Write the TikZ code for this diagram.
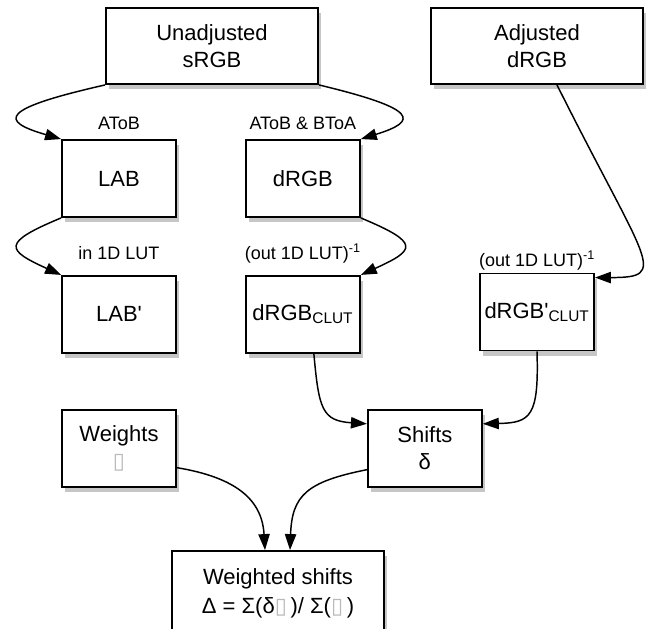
\documentclass[tikz,border=0pt]{standalone}
\usepackage{fontspec}
\setmainfont{Liberation Sans}
\newfontfamily\symfont{DejaVu Sans}
\usetikzlibrary{arrows.meta,positioning,shadows}
\newcommand{\nog}{{\symfont\color{gray!55}▯}}

\begin{document}
\begin{tikzpicture}[x=0.75pt, y=-0.75pt,
  box/.style={draw, line width=1.4pt, fill=white, align=center, inner sep=2pt,
    minimum width=85.5pt, minimum height=57.75pt, font=\fontsize{16.5}{20}\selectfont,
    drop shadow={shadow xshift=2.5pt, shadow yshift=-4pt, opacity=0.45}},
  wide/.style={box, minimum width=159pt, minimum height=57pt},
  lbl/.style={font=\fontsize{13.5}{16}\selectfont, inner sep=0pt, anchor=base},
  link/.style={line width=1.1pt, -{Triangle[length=12pt, width=8.5pt]}}]
  \useasboundingbox (0,0) rectangle (649,628);

  % boxes
  \node[wide] (unadj) at (212,46) {Unadjusted\\sRGB};
  \node[wide] (adj) at (537,46) {Adjusted\\dRGB};
  \node[box] (lab) at (119,178.5) {LAB};
  \node[box, right=51pt of lab] (drgb) {dRGB};
  \node[box, below=42.75pt of lab] (labp) {LAB\textquotesingle};
  \node[box, right=51pt of labp] (drgbc) {dRGB\textsubscript{CLUT}};
  \node[box] (drgbcp) at (537,312) {dRGB\textquotesingle\textsubscript{CLUT}};
  \node[box, below=41.25pt of labp] (weights) {Weights\\\nog};
  \node[box, right=142.5pt of weights] (shifts) {Shifts\\δ};
  \node[wide, minimum height=63pt, font=\fontsize{16.5}{22}\selectfont] (wsum) at (278,593)
    {Weighted shifts\\Δ = Σ(δ\nog\,)/ Σ(\nog\,)};

  % transform labels
  \node[lbl] (t1) at ([yshift=7.5pt]lab.north) {AToB};
  \node[lbl] (t2) at ([yshift=7.5pt]drgb.north) {AToB \& BToA};
  \node[lbl] (t3) at ([yshift=11.25pt]labp.north) {in 1D LUT};
  \node[lbl] (t4) at ([yshift=11.25pt]drgbc.north) {(out 1D LUT)\textsuperscript{-1}};
  \node[lbl] (t5) at ([yshift=4.5pt]drgbcp.north) {(out 1D LUT)\textsuperscript{-1}};

  % connectors
  \draw[link] (unadj.south west) .. controls +(-106,24) and +(-62,-18) .. (lab.north west);
  \draw[link] (unadj.south east) .. controls +(100,24) and +(58,-18) .. (drgb.north east);
  \draw[link] (lab.south west) .. controls +(-60,25) and +(-55,-25) .. (labp.north west);
  \draw[link] (drgb.south east) .. controls +(60,25) and +(55,-25) .. (drgbc.north east);
  \draw[link] ([xshift=15pt]adj.south) .. controls +(90,180) and +(75,0) .. ([yshift=-3.75pt]drgbcp.north east);
  \draw[link] ([xshift=8.25pt]drgbc.south) .. controls +(5,55) and +(-45,-3) .. ([yshift=-11.25pt]shifts.north west);
  \draw[link] (drgbcp.south) .. controls +(2,65) and +(48,-1) .. ([yshift=-11.25pt]shifts.north east);
  \draw[link] ([yshift=15pt]weights.south east) .. controls +(60,10) and +(-3,-50) .. ([xshift=-9.75pt]wsum.north);
  \draw[link] ([yshift=13.5pt]shifts.south west) .. controls +(-60,12) and +(2,-55) .. ([xshift=9pt]wsum.north);
\end{tikzpicture}
\end{document}
